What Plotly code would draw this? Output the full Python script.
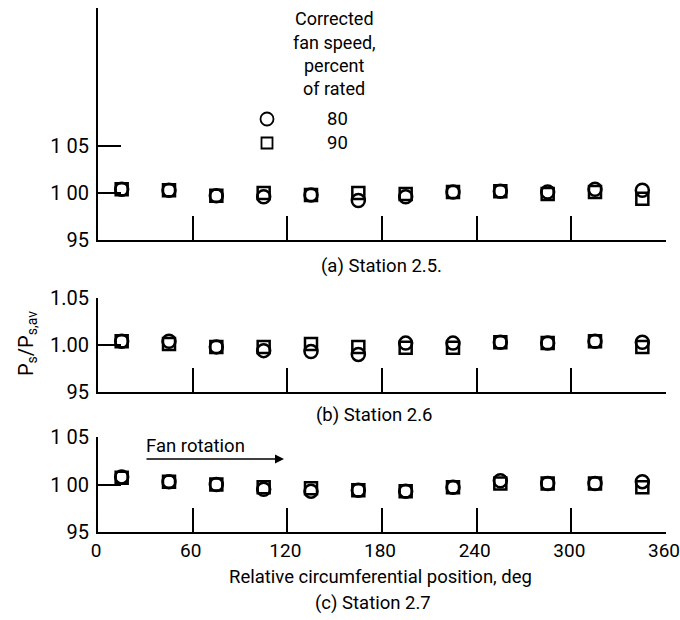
import plotly.graph_objects as go

angles = [15, 45, 75, 105, 135, 165, 195, 225, 255, 285, 315, 345]

a80 = [1.004, 1.003, 0.997, 0.996, 0.998, 0.992, 0.996, 1.001, 1.002, 1.001, 1.004, 1.003]
a90 = [1.004, 1.003, 0.997, 1.000, 0.998, 1.000, 0.999, 1.001, 1.002, 0.999, 1.001, 0.994]
b80 = [1.004, 1.004, 0.998, 0.994, 0.993, 0.990, 1.002, 1.002, 1.003, 1.002, 1.004, 1.003]
b90 = [1.004, 1.001, 0.998, 0.998, 1.001, 0.998, 0.997, 0.997, 1.003, 1.002, 1.004, 0.998]
c80 = [1.008, 1.003, 1.000, 0.995, 0.993, 0.994, 0.993, 0.997, 1.004, 1.001, 1.001, 1.003]
c90 = [1.007, 1.003, 1.000, 0.997, 0.996, 0.994, 0.993, 0.997, 1.001, 1.001, 1.001, 0.997]

x_ticks = [0, 60, 120, 180, 240, 300, 360]
y_ticks = [0.95, 1.00, 1.05]
y_labels_ac = ["95", "1 00", "1 05"]
y_labels_b = ["95", "1.00", "1.05"]

FONT = "Roboto, Liberation Sans, sans-serif"

W, H = 680, 620
L, R, T, B = 98, 14, 8, 88
pw, ph = W - L - R, H - T - B


def px(xs):
    return (xs - L) / pw


def py(ys):
    return (H - B - ys) / ph


fig = go.Figure()

panels = [
    ("x", "y", a80, a90),
    ("x2", "y2", b80, b90),
    ("x3", "y3", c80, c90),
]
for xa, ya, s80, s90 in panels:
    fig.add_trace(go.Scatter(x=angles, y=s90, mode="markers", xaxis=xa, yaxis=ya,
                             marker=dict(symbol="square-open", size=12, color="black",
                                         line=dict(width=2.5, color="black")),
                             showlegend=False, cliponaxis=False))
    fig.add_trace(go.Scatter(x=angles, y=s80, mode="markers", xaxis=xa, yaxis=ya,
                             marker=dict(symbol="circle-open", size=13, color="black",
                                         line=dict(width=2.5, color="black")),
                             showlegend=False, cliponaxis=False))

xcommon = dict(range=[0, 360], tickvals=x_ticks, showline=True, linecolor="black",
               linewidth=2, ticks="inside", ticklen=24, tickwidth=2, tickcolor="black",
               showgrid=False, zeroline=False, domain=[0, 1], automargin=False,
               ticklabeloverflow="allow", ticklabelshift=-2,
               tickfont=dict(family=FONT, size=19, color="black"))
ycommon = dict(tickvals=y_ticks, showline=True, linecolor="black", linewidth=2,
               ticks="inside", ticklen=23, tickwidth=2, tickcolor="black",
               showgrid=False, zeroline=False, automargin=False, ticklabelstandoff=3,
               tickfont=dict(family=FONT, size=20, color="black"))

fig.update_layout(
    template="none",
    width=W, height=H,
    margin=dict(l=L, r=R, t=T, b=B, pad=0),
    paper_bgcolor="white", plot_bgcolor="white",
    font=dict(family=FONT, size=18.5, color="black"),
    showlegend=False,
    xaxis=dict(xcommon, anchor="y", showticklabels=False),
    xaxis2=dict(xcommon, anchor="y2", showticklabels=False),
    xaxis3=dict(xcommon, anchor="y3", showticklabels=True),
    yaxis=dict(ycommon, range=[0.95, 1.197], domain=[py(240), 1.0], anchor="x",
               ticktext=y_labels_ac),
    yaxis2=dict(ycommon, range=[0.95, 1.05], domain=[py(392), py(298)], anchor="x2",
                ticktext=y_labels_b),
    yaxis3=dict(ycommon, range=[0.95, 1.05], domain=[0, py(437)], anchor="x3",
                ticktext=y_labels_ac),
)

ann = []
# legend title
for i, line in enumerate(["Corrected", "fan speed,", "percent", "of rated"]):
    ann.append(dict(x=px(334), y=py(19 + i * 23.3), xref="paper", yref="paper",
                    text=line, showarrow=False, xanchor="center", yanchor="middle",
                    font=dict(size=18)))
ann.append(dict(x=px(337), y=py(119), xref="paper", yref="paper", text="80",
                showarrow=False, xanchor="center", yanchor="middle"))
ann.append(dict(x=px(337), y=py(143), xref="paper", yref="paper", text="90",
                showarrow=False, xanchor="center", yanchor="middle"))
# captions
ann.append(dict(x=px(381), y=py(266), xref="paper", yref="paper", text="(a) Station 2.5.",
                showarrow=False, xanchor="center", yanchor="middle"))
ann.append(dict(x=px(374), y=py(415), xref="paper", yref="paper", text="(b) Station 2.6",
                showarrow=False, xanchor="center", yanchor="middle"))
ann.append(dict(x=px(380), y=py(577), xref="paper", yref="paper",
                text="Relative circumferential position, deg",
                showarrow=False, xanchor="center", yanchor="middle"))
ann.append(dict(x=px(373), y=py(603), xref="paper", yref="paper", text="(c) Station 2.7",
                showarrow=False, xanchor="center", yanchor="middle"))
# y title
ann.append(dict(x=px(27), y=py(344), xref="paper", yref="paper",
                text="P<sub>s</sub>/P<sub>s,av</sub>", textangle=-90,
                showarrow=False, xanchor="center", yanchor="middle", font=dict(size=20)))
# fan rotation
ann.append(dict(x=px(195), y=py(446), xref="paper", yref="paper", text="Fan rotation",
                showarrow=False, xanchor="center", yanchor="middle"))
ann.append(dict(x=px(284), y=py(459), xref="paper", yref="paper", text="",
                showarrow=True, ax=-139, ay=0, axref="pixel", ayref="pixel",
                arrowhead=2, arrowsize=1.2, arrowwidth=1.5, arrowcolor="black"))
fig.update_layout(annotations=ann)

shapes = [
    dict(type="circle", xref="paper", yref="paper",
         x0=px(260.5), x1=px(273.5), y0=py(125.5), y1=py(112.5),
         line=dict(color="black", width=1.8)),
    dict(type="rect", xref="paper", yref="paper",
         x0=px(261.5), x1=px(272.5), y0=py(148.5), y1=py(137.5),
         line=dict(color="black", width=1.8)),
]
fig.update_layout(shapes=shapes)

fig.write_html(
    "out.html",
    config={"displayModeBar": False},
    post_script="document.body.style.margin='0';document.body.style.overflow='hidden';"
                "document.documentElement.style.overflow='hidden';",
)
